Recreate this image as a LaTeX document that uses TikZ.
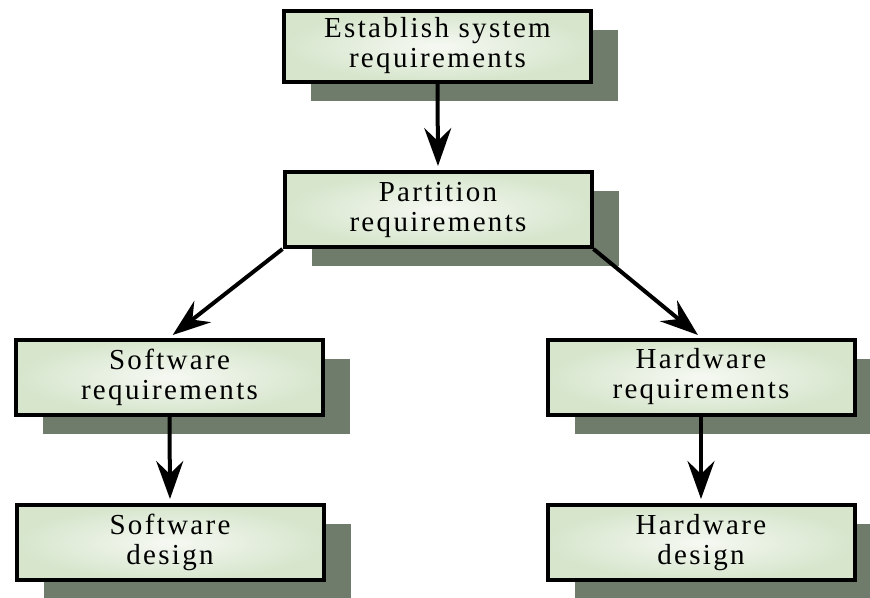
\documentclass[tikz,border=0pt]{standalone}
\usepackage{fontspec}
\setmainfont{Liberation Serif}[LetterSpace=8]
\usetikzlibrary{arrows.meta,shadows}
\definecolor{boxedge}{HTML}{D6E5CC}
\definecolor{boxmid}{HTML}{F6F9F3}
\definecolor{shadowc}{HTML}{6F7B6B}
\tikzset{
  stepbox/.style={draw=black, line width=4pt, rectangle,
    inner color=boxmid, outer color=boxedge,
    minimum width=307pt, minimum height=75pt, align=center,
    font=\fontsize{29pt}{30pt}\selectfont,
    general shadow={fill=shadowc, shadow xshift=27pt, shadow yshift=-19pt}},
  flow/.style={line width=4pt, -{Stealth[length=38pt, width=27pt, inset=13pt]}, shorten >=4pt}
}
\begin{document}
\begin{tikzpicture}[x=1pt,y=-1pt]
\useasboundingbox (0,0) rectangle (870,597);
\node[stepbox, minimum height=71pt] (b1) at (437.5,46) {Establish system\\requirements};
\node[stepbox] (b2) at (438,209.5) {Partition\\requirements};
\node[stepbox] (b3) at (169.5,377) {Software\\requirements};
\node[stepbox] (b4) at (701,377) {Hardware\\requirements};
\node[stepbox] (b5) at (170,542.5) {Software\\design};
\node[stepbox] (b6) at (701,542.5) {Hardware\\design};
\draw[flow] (b1.south) -- (b2.north);
\draw[flow] (b2.south west) -- (b3.north);
\draw[flow] (b2.south east) -- (b4.north);
\draw[flow] (b3.south) -- (b5.north);
\draw[flow] (b4.south) -- (b6.north);
\end{tikzpicture}
\end{document}
